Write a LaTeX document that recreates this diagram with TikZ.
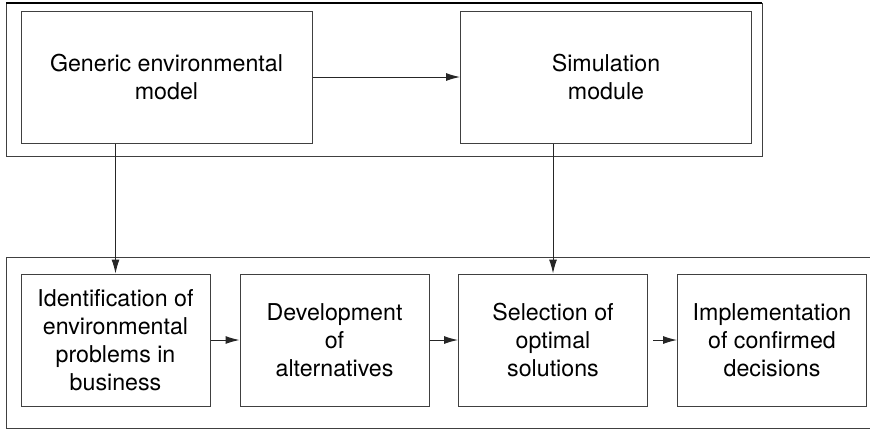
\documentclass[tikz,border=0pt]{standalone}
\usepackage{fontspec}
\setmainfont{TeX Gyre Heros}
\usetikzlibrary{arrows.meta}

\tikzset{
  bigbox/.style={draw=black!75, minimum width=145.5pt, minimum height=66pt, inner sep=0pt, align=center, font=\fontsize{11.6}{14}\selectfont},
  procbox/.style={draw=black!75, minimum width=94.5pt, minimum height=66pt, inner sep=0pt, align=center, font=\fontsize{11.6}{14}\selectfont},
  link/.style={-{Latex[length=7pt,width=4pt]}, black!85},
}

\begin{document}
\begin{tikzpicture}[x=0.5pt, y=-0.5pt, line width=0.5pt]
        \useasboundingbox (0,0) rectangle (870,429);
        \clip (0,0) rectangle (870,429);
        % outer frames
        \draw[black!75] (6,3) rectangle (762,156);
        \draw[black, line width=0.7pt] (6,3) -- (762,3);
        \draw[black!75] (6,257) rectangle (890,428);
        % top row
        \node[bigbox] (model) at (166.5,77) {Generic environmental\\model};
        \node[bigbox] (sim) at (606,77) {Simulation\\module};
        % bottom row
        \node[procbox] (ident) at (115.5,340) {Identification of\\environmental\\problems in\\business};
        \node[procbox] (devel) at (334.5,340) {Development\\of\\alternatives};
        \node[procbox] (select) at (553,340) {Selection of\\optimal\\solutions};
        \node[procbox] (impl) at (772,340) {Implementation\\of confirmed\\decisions};
        \draw[link] (model) -- (sim);
        \draw[link] (ident.north |- model.south) -- (ident.north);
        \draw[link] (select.north |- sim.south) -- (select.north);
        \draw[link] (ident) -- (devel);
        \draw[link] (devel) -- (select);
        \draw[link, shorten <=2.5pt] (select) -- (impl);
\end{tikzpicture}
\end{document}
